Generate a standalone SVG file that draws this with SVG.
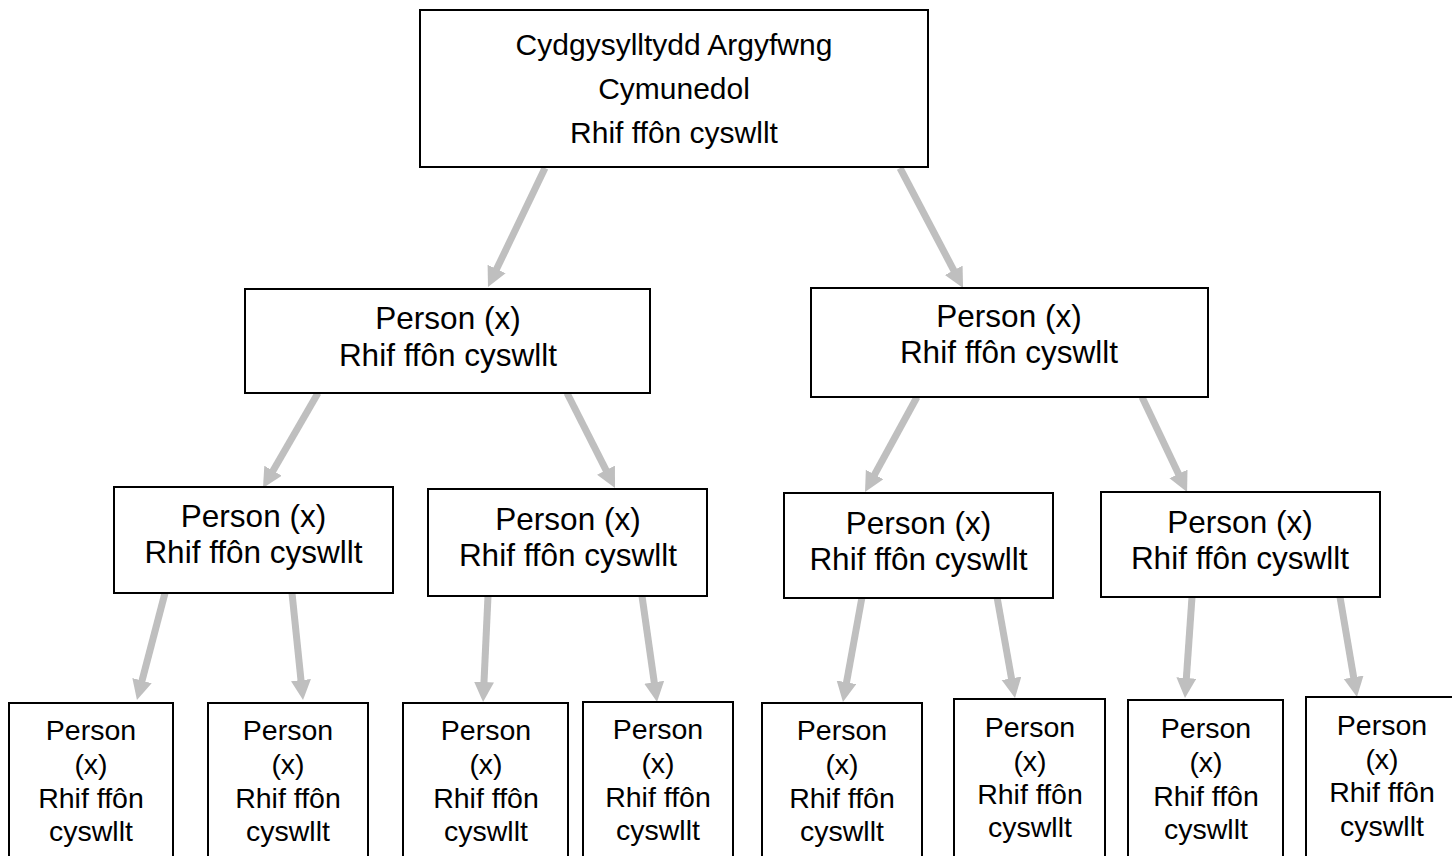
<svg xmlns="http://www.w3.org/2000/svg" width="1452" height="856" viewBox="0 0 1452 856">
  <style>
    .box { fill: #ffffff; stroke: #000000; stroke-width: 2; }
    .t { font-family: "Liberation Sans", Arial, sans-serif; fill: #000000; text-anchor: middle; }
    .t1 { font-size: 30px; }
    .t2 { font-size: 31.5px; }
    .t3 { font-size: 28.5px; }
    .conn { stroke: #bfbfbf; stroke-width: 7; fill: none; marker-end: url(#ah); }
  </style>
  <defs>
    <marker id="ah" markerUnits="userSpaceOnUse" markerWidth="22" markerHeight="22" refX="4" refY="10" orient="auto">
      <path d="M0,0 L20,10 L0,20 z" fill="#bfbfbf"/>
    </marker>
  </defs>
  <rect width="1452" height="856" fill="#ffffff"/>

  <g id="connectors">
    <line class="conn" x1="545" y1="168" x2="494.9" y2="272.6"/>
    <line class="conn" x1="900" y1="168" x2="955.6" y2="273.8"/>
    <line class="conn" x1="318" y1="393" x2="271.0" y2="474.2"/>
    <line class="conn" x1="567" y1="393" x2="607.8" y2="473.7"/>
    <line class="conn" x1="917" y1="397" x2="872.7" y2="478.0"/>
    <line class="conn" x1="1142" y1="397" x2="1180.2" y2="477.5"/>
    <line class="conn" x1="165" y1="593" x2="141.0" y2="684.5"/>
    <line class="conn" x1="292" y1="593" x2="301.4" y2="684.1"/>
    <line class="conn" x1="488" y1="596" x2="483.8" y2="686.0"/>
    <line class="conn" x1="642" y1="596" x2="654.8" y2="686.2"/>
    <line class="conn" x1="862" y1="597" x2="845.8" y2="686.3"/>
    <line class="conn" x1="997" y1="597" x2="1012.2" y2="682.3"/>
    <line class="conn" x1="1192" y1="597" x2="1186.1" y2="682.0"/>
    <line class="conn" x1="1340" y1="597" x2="1354.3" y2="681.2"/>
  </g>

  <g id="root">
    <rect class="box" x="420" y="10" width="508" height="157"/>
    <text class="t t1" x="674" y="55">Cydgysylltydd Argyfwng</text>
    <text class="t t1" x="674" y="99">Cymunedol</text>
    <text class="t t1" x="674" y="143">Rhif ffôn cyswllt</text>
  </g>

  <g id="l2-left">
    <rect class="box" x="245" y="289" width="405" height="104"/>
    <text class="t t2" x="448" y="329">Person (x)</text>
    <text class="t t2" x="448" y="366">Rhif ffôn cyswllt</text>
  </g>
  <g id="l2-right">
    <rect class="box" x="811" y="288" width="397" height="109"/>
    <text class="t t2" x="1009" y="327">Person (x)</text>
    <text class="t t2" x="1009" y="363">Rhif ffôn cyswllt</text>
  </g>

  <g id="l3-a">
    <rect class="box" x="114" y="487" width="279" height="106"/>
    <text class="t t2" x="253.5" y="527">Person (x)</text>
    <text class="t t2" x="253.5" y="563">Rhif ffôn cyswllt</text>
  </g>
  <g id="l3-b">
    <rect class="box" x="428" y="489" width="279" height="107"/>
    <text class="t t2" x="568" y="530">Person (x)</text>
    <text class="t t2" x="568" y="566">Rhif ffôn cyswllt</text>
  </g>
  <g id="l3-c">
    <rect class="box" x="784" y="493" width="269" height="105"/>
    <text class="t t2" x="918.5" y="534">Person (x)</text>
    <text class="t t2" x="918.5" y="570">Rhif ffôn cyswllt</text>
  </g>
  <g id="l3-d">
    <rect class="box" x="1101" y="492" width="279" height="105"/>
    <text class="t t2" x="1240" y="533">Person (x)</text>
    <text class="t t2" x="1240" y="569">Rhif ffôn cyswllt</text>
  </g>

  <g id="l4-1">
    <rect class="box" x="9" y="703" width="164" height="160"/>
    <text class="t t3" x="91" y="740">Person</text>
    <text class="t t3" x="91" y="774">(x)</text>
    <text class="t t3" x="91" y="808">Rhif ffôn</text>
    <text class="t t3" x="91" y="841">cyswllt</text>
  </g>
  <g id="l4-2">
    <rect class="box" x="208" y="703" width="160" height="160"/>
    <text class="t t3" x="288" y="740">Person</text>
    <text class="t t3" x="288" y="774">(x)</text>
    <text class="t t3" x="288" y="808">Rhif ffôn</text>
    <text class="t t3" x="288" y="841">cyswllt</text>
  </g>
  <g id="l4-3">
    <rect class="box" x="403" y="703" width="165" height="160"/>
    <text class="t t3" x="486" y="740">Person</text>
    <text class="t t3" x="486" y="774">(x)</text>
    <text class="t t3" x="486" y="808">Rhif ffôn</text>
    <text class="t t3" x="486" y="841">cyswllt</text>
  </g>
  <g id="l4-4">
    <rect class="box" x="583" y="702" width="150" height="160"/>
    <text class="t t3" x="658" y="739">Person</text>
    <text class="t t3" x="658" y="773">(x)</text>
    <text class="t t3" x="658" y="807">Rhif ffôn</text>
    <text class="t t3" x="658" y="840">cyswllt</text>
  </g>
  <g id="l4-5">
    <rect class="box" x="762" y="703" width="160" height="160"/>
    <text class="t t3" x="842" y="740">Person</text>
    <text class="t t3" x="842" y="774">(x)</text>
    <text class="t t3" x="842" y="808">Rhif ffôn</text>
    <text class="t t3" x="842" y="841">cyswllt</text>
  </g>
  <g id="l4-6">
    <rect class="box" x="954" y="699" width="151" height="160"/>
    <text class="t t3" x="1030" y="737">Person</text>
    <text class="t t3" x="1030" y="771">(x)</text>
    <text class="t t3" x="1030" y="804">Rhif ffôn</text>
    <text class="t t3" x="1030" y="837">cyswllt</text>
  </g>
  <g id="l4-7">
    <rect class="box" x="1128" y="700" width="155" height="160"/>
    <text class="t t3" x="1206" y="738">Person</text>
    <text class="t t3" x="1206" y="772">(x)</text>
    <text class="t t3" x="1206" y="806">Rhif ffôn</text>
    <text class="t t3" x="1206" y="839">cyswllt</text>
  </g>
  <g id="l4-8">
    <rect class="box" x="1306" y="697" width="152" height="160"/>
    <text class="t t3" x="1382" y="735">Person</text>
    <text class="t t3" x="1382" y="769">(x)</text>
    <text class="t t3" x="1382" y="802">Rhif ffôn</text>
    <text class="t t3" x="1382" y="836">cyswllt</text>
  </g>
</svg>
